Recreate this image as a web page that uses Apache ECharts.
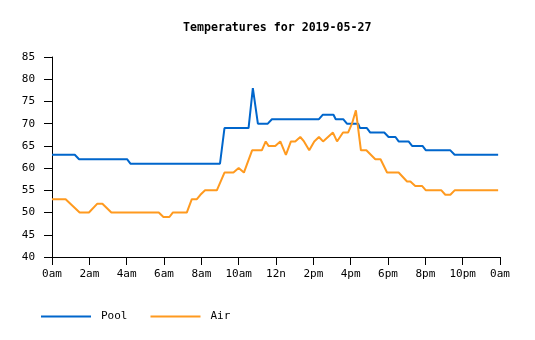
<!DOCTYPE html>
<html><head><meta charset="utf-8">
<script src="https://cdn.jsdelivr.net/npm/echarts@6/dist/echarts.min.js"></script>
<style>html,body{margin:0;padding:0;background:#fff}#c{width:535px;height:340px}</style>
</head><body><div id="c"></div>
<script>
var titleText = "Temperatures for 2019-05-27";
var xTickLabels = ["0am","2am","4am","6am","8am","10am","12n","2pm","4pm","6pm","8pm","10pm","0am"];
var poolHours = [0, 1.22, 1.45, 4.02, 4.2, 9.0, 9.24, 10.53, 10.76, 11.03, 11.56, 11.78, 14.3, 14.5, 15.08, 15.2, 15.6, 15.8, 16.4, 16.5, 16.87, 17.05, 17.8, 18.03, 18.4, 18.57, 19.1, 19.29, 19.85, 20.03, 21.34, 21.57, 23.9];
var poolTemps = [63, 63, 62, 62, 61, 61, 69, 69, 78, 70, 70, 71, 71, 72, 72, 71, 71, 70, 70, 69, 69, 68, 68, 67, 67, 66, 66, 65, 65, 64, 64, 63, 63];
var airHours = [0, 0.73, 1.48, 1.98, 2.43, 2.7, 3.18, 5.72, 5.97, 6.29, 6.47, 7.22, 7.49, 7.76, 7.95, 8.2, 8.83, 9.24, 9.72, 10.0, 10.28, 10.72, 11.24, 11.45, 11.6, 11.96, 12.23, 12.53, 12.8, 13.03, 13.3, 13.5, 13.78, 14.05, 14.3, 14.52, 15.05, 15.27, 15.59, 15.86, 16.07, 16.28, 16.55, 16.84, 17.32, 17.6, 17.95, 18.57, 19.02, 19.2, 19.46, 19.82, 20.03, 20.86, 21.07, 21.34, 21.57, 23.9];
var airTemps = [53, 53, 50, 50, 52, 52, 50, 50, 49, 49, 50, 50, 53, 53, 54, 55, 55, 59, 59, 60, 59, 64, 64, 66, 65, 65, 66, 63, 66, 66, 67, 66, 64, 66, 67, 66, 68, 66, 68, 68, 70, 73, 64, 64, 62, 62, 59, 59, 57, 57, 56, 56, 55, 55, 54, 54, 55, 55];

function pairs(xs, ys){ return xs.map(function(x,i){ return [x, ys[i]]; }); }
var font = "'DejaVu Sans Mono', 'Liberation Mono', monospace";
var chart = echarts.init(document.getElementById('c'), null, {renderer:'canvas'});
chart.setOption({
  animation: false,
  backgroundColor: '#ffffff',
  title: { text: titleText, left: 183, top: 22, padding: 0,
    textStyle: { fontFamily: font, fontSize: 11.6, fontWeight: 'bold', color: '#000' } },
  legend: { left: 41, top: 311, padding: 0, itemWidth: 50, itemHeight: 2, itemGap: 23, icon: 'rect',
    textStyle: { fontFamily: font, fontSize: 11, color: '#000', padding: [0,0,0,5] },
    data: ['Pool', 'Air'] },
  grid: { left: 52, right: 35, top: 57, bottom: 83, containLabel: false },
  xAxis: { type: 'value', min: 0, max: 24, interval: 2,
    axisLine: { show: true, lineStyle: { color: '#000', width: 1 } },
    axisTick: { show: true, length: 8, lineStyle: { color: '#000' } },
    splitLine: { show: false },
    axisLabel: { margin: 12, fontFamily: font, fontSize: 11, color: '#000',
      formatter: function(v){ return xTickLabels[Math.round(v/2)]; } } },
  yAxis: { type: 'value', min: 40, max: 85, interval: 5,
    axisLine: { show: true, lineStyle: { color: '#000', width: 1 } },
    axisTick: { show: true, length: 8, lineStyle: { color: '#000' } },
    splitLine: { show: false },
    axisLabel: { margin: 17, fontFamily: font, fontSize: 11, color: '#000' } },
  series: [
    { name: 'Pool', type: 'line', data: pairs(poolHours, poolTemps), showSymbol: false,
      color: '#0066cc', lineStyle: { width: 2, color: '#0066cc' } },
    { name: 'Air', type: 'line', data: pairs(airHours, airTemps), showSymbol: false,
      color: '#ff9a1f', lineStyle: { width: 2, color: '#ff9a1f' } }
  ]
});
</script></body></html>
